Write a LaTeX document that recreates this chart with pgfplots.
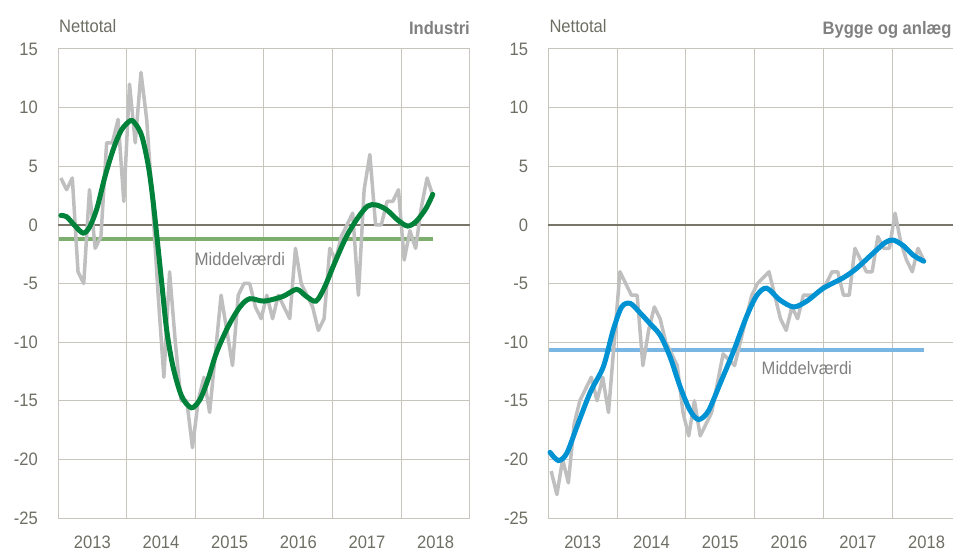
\documentclass[border=0pt]{standalone}
\usepackage{fontspec}
\setmainfont[FakeStretch=0.92]{Liberation Sans}
\usepackage{pgfplots}
\pgfplotsset{compat=1.18}
\definecolor{grayline}{RGB}{191,191,191}
\definecolor{greenc}{RGB}{0,130,58}
\definecolor{lgreenc}{RGB}{124,174,110}
\definecolor{bluec}{RGB}{0,146,210}
\definecolor{lbluec}{RGB}{122,182,228}
\definecolor{gridc}{RGB}{200,198,188}
\definecolor{zeroc}{RGB}{120,117,105}
\definecolor{labelc}{RGB}{110,110,100}
\definecolor{titlec}{RGB}{128,128,128}
\newcommand{\chartfont}{\fontsize{18bp}{21bp}\selectfont}
\pgfplotsset{
 panel/.style={
  at={(#1,36bp)}, anchor=south west, scale only axis, width=412bp, height=469bp,
  xmin=0,xmax=72,ymin=-25,ymax=15,
  xtick={6,18,30,42,54,66}, xticklabels={2013,2014,2015,2016,2017,2018},
  minor xtick={12,24,36,48,60},
  ytick={-25,-20,-15,-10,-5,0,5,10,15},
  yticklabels={-25,-20,-15,-10,-5,0,5,10,15},
  xminorgrids=true, ymajorgrids=true, xmajorgrids=false,
  grid style={gridc, line width=1bp},
  minor grid style={gridc, line width=1bp},
  axis line style={gridc, line width=1bp},
  major tick length=0pt, minor tick length=0pt, tick style={draw=none},
  tick label style={font=\chartfont, text=labelc},
  /pgf/number format/assume math mode=true,
  yticklabel style={anchor=east, inner sep=0pt, xshift=-20bp},
  xticklabel style={anchor=north, inner sep=0pt, yshift=-18bp},
  clip=false,
 }
}
\begin{document}
\begin{tikzpicture}
% ---------- Left panel: Industri ----------
\begin{axis}[panel=58bp]
\draw[zeroc, line width=1.3bp] (axis cs:0,0) -- (axis cs:72,0);
\addplot[lgreenc, line width=4bp] coordinates {(0.2,-1.2) (65.5,-1.2)};
\addplot[grayline, line width=3.5bp, line join=round] coordinates {
(0.5,4)(1.5,3)(2.5,4)(3.5,-4)(4.5,-5)(5.5,3)(6.5,-2)(7.5,-1)(8.5,7)(9.5,7)(10.5,9)(11.5,2)(12.5,12)(13.5,7)(14.5,13)(15.5,9)(16.5,2)(17.5,-6)(18.5,-13)(19.5,-4)(20.5,-10)(21.5,-15)(22.5,-15)(23.5,-19)(24.5,-15)(25.5,-13)(26.5,-16)(27.5,-11)(28.5,-6)(29.5,-9)(30.5,-12)(31.5,-6)(32.5,-5)(33.5,-5)(34.5,-7)(35.5,-8)(36.5,-6)(37.5,-8)(38.5,-6)(39.5,-7)(40.5,-8)(41.5,-2)(42.5,-5)(43.5,-6)(44.5,-7)(45.5,-9)(46.5,-8)(47.5,-2)(48.5,-3)(49.5,-1)(50.5,0)(51.5,1)(52.5,-6)(53.5,3)(54.5,6)(55.5,0)(56.5,0)(57.5,2)(58.5,2)(59.5,3)(60.5,-3)(61.5,-0.5)(62.5,-2)(63.5,1.5)(64.5,4)(65.5,2.5)};
\addplot[greenc, line width=5bp, smooth, tension=0.5, line cap=round] coordinates {
(0.5,0.8)(1.5,0.7)(3.0,-0.1)(4.4,-0.7)(5.5,-0.2)(6.8,1.4)(8.2,4.1)(9.7,6.5)(11.1,8.1)(12.7,8.9)(13.7,8.5)(14.7,7.5)(15.8,5.0)(16.6,2.1)(17.5,-2.0)(18.2,-5.3)(19.0,-9.0)(20.1,-12.1)(21.6,-14.6)(23.3,-15.6)(24.8,-14.9)(26.2,-13.2)(27.7,-10.9)(29.7,-8.7)(31.8,-7.0)(33.5,-6.3)(36,-6.5)(39.3,-6.1)(41.7,-5.5)(43.4,-6.1)(45.1,-6.5)(46.6,-5.3)(48.3,-3.3)(50.4,-1.0)(52.4,0.6)(54.1,1.6)(55.6,1.7)(57.4,1.3)(59.4,0.4)(61.1,-0.1)(62.6,0.3)(64.3,1.4)(65.5,2.6)};
\node[font=\chartfont, text=titlec] at (axis cs:31.8,-2.9) {Middelværdi};
\end{axis}
% ---------- Right panel: Bygge og anlaeg ----------
\begin{axis}[panel=548.3bp, width=412.7bp]
\draw[zeroc, line width=1.3bp] (axis cs:0,0) -- (axis cs:72,0);
\addplot[lbluec, line width=4bp] coordinates {(0.2,-10.66) (65.5,-10.66)};
\addplot[grayline, line width=3.5bp, line join=round] coordinates {
(0.5,-21)(1.5,-23)(2.5,-20)(3.5,-22)(4.5,-17)(5.5,-15)(6.5,-14)(7.5,-13)(8.5,-15)(9.5,-13)(10.5,-16)(11.5,-10)(12.5,-4)(13.5,-5)(14.5,-6)(15.5,-6)(16.5,-12)(17.5,-9)(18.5,-7)(19.5,-8)(20.5,-10)(21.5,-11)(22.5,-12)(23.5,-16)(24.5,-18)(25.5,-15)(26.5,-18)(27.5,-17)(28.5,-16)(29.5,-13.5)(30.5,-11)(31.5,-11.5)(32.5,-12)(33.5,-10)(34.5,-8)(35.5,-6)(36.5,-5)(37.5,-4.5)(38.5,-4)(39.5,-6)(40.5,-8)(41.5,-9)(42.5,-7)(43.5,-8)(44.5,-6)(45.5,-6)(46.5,-6)(47.5,-5.5)(48.5,-5)(49.5,-4)(50.5,-4)(51.5,-6)(52.5,-6)(53.5,-2)(54.5,-3)(55.5,-4)(56.5,-4)(57.5,-1)(58.5,-2)(59.5,-2)(60.5,1)(61.5,-1.5)(62.5,-3)(63.5,-4)(64.5,-2)(65.5,-3)};
\addplot[bluec, line width=5bp, smooth, tension=0.5, line cap=round] coordinates {
(0.3,-19.4)(1.75,-20.1)(3.2,-19.5)(5.0,-17.2)(7.3,-14.3)(9.6,-12.1)(11.3,-9.0)(12.8,-7.0)(14.3,-6.7)(16.0,-7.5)(17.7,-8.4)(19.5,-9.4)(21.2,-11.2)(23.0,-13.8)(24.7,-15.8)(26.2,-16.6)(27.9,-15.9)(30.0,-13.5)(32.3,-10.8)(34.6,-7.8)(36.4,-6.0)(38.1,-5.4)(40.4,-6.4)(42.8,-7.0)(45.1,-6.5)(48.0,-5.4)(51.5,-4.5)(53.8,-3.7)(56.7,-2.4)(58.8,-1.5)(60.2,-1.3)(62.0,-1.8)(63.7,-2.6)(65.5,-3.1)};
\node[font=\chartfont, text=titlec] at (axis cs:45.1,-12.2) {Middelværdi};
\end{axis}
% ---------- Titles ----------
\node[font=\chartfont, text=labelc, anchor=base west, inner sep=0pt] at (59bp,521bp) {Nettotal};
\node[font=\chartfont\bfseries, text=titlec, anchor=base east, inner sep=0pt] at (470bp,519bp) {Industri};
\node[font=\chartfont, text=labelc, anchor=base west, inner sep=0pt] at (549.3bp,521bp) {Nettotal};
\node[font=\chartfont\bfseries, text=titlec, anchor=base east, inner sep=0pt] at (951.7bp,519bp) {Bygge og anlæg};
\pgfresetboundingbox
\path[use as bounding box] (0,0) rectangle (953bp,554bp);
\end{tikzpicture}
\end{document}
